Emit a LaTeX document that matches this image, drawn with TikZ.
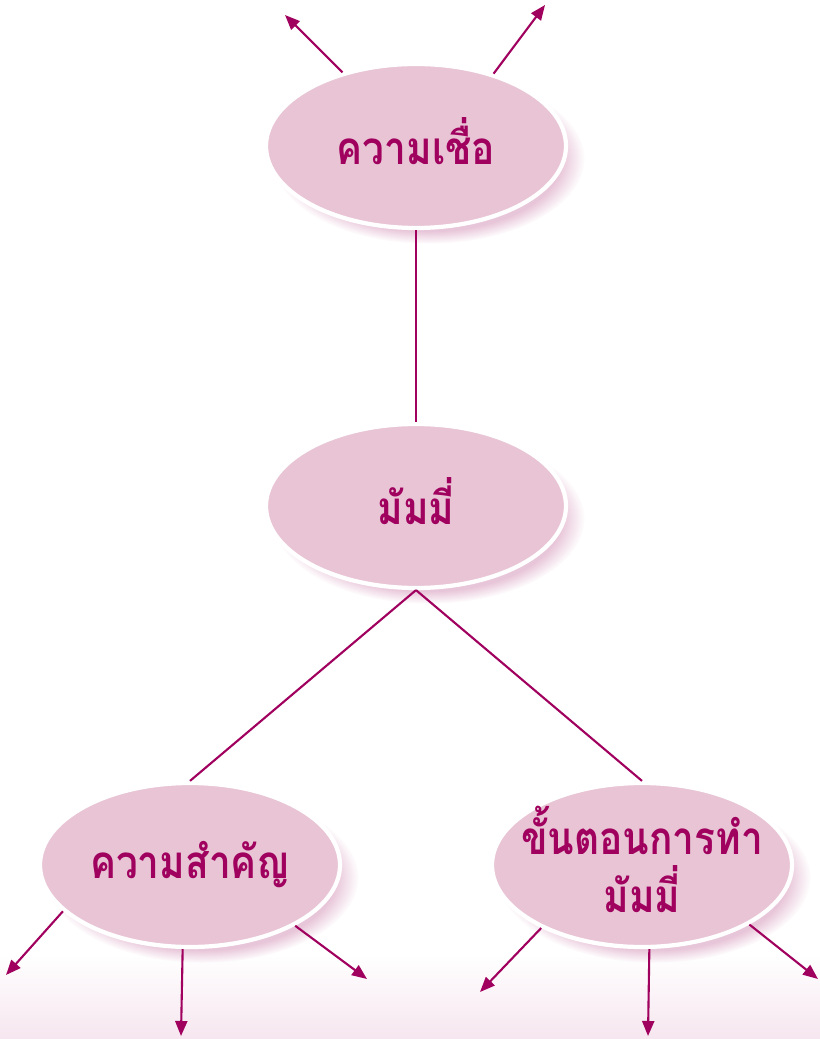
\documentclass[tikz,border=0pt]{standalone}
\usepackage{fontspec}
\newfontfamily\thaifont[Script=Thai,FakeStretch=0.85]{Loma}
\usetikzlibrary{shapes.geometric,arrows.meta,shadows,fadings}
\definecolor{mumline}{HTML}{A0005E}
\definecolor{mumfill}{HTML}{E8C4D5}
\definecolor{mumshade}{HTML}{D9A0C0}
\definecolor{mumfloor}{HTML}{F6E6EF}
\begin{document}
\begin{tikzpicture}[x=0.1mm,y=-0.1mm,
    topic/.style={ellipse,fill=mumfill,draw=white,line width=1.2pt,
        minimum width=30mm,minimum height=16.4mm,inner xsep=-4mm,inner ysep=-2mm,
        circular drop shadow={fill=mumshade,shadow xshift=1.2mm,shadow yshift=-1.2mm,
            shadow scale=1.04,opacity=0.6},
        font=\thaifont\bfseries\fontsize{13}{16.5}\selectfont,text=mumline,align=center,
        text depth=0.3em},
    branch/.style={mumline,line width=0.6pt},
    lead/.style={branch,-{Triangle[length=1.5mm,width=1.2mm]}}]
\useasboundingbox (0,0) rectangle (820,1039);
% pale floor at the bottom
\shade[top color=white,bottom color=mumfloor] (0,955) rectangle (820,1039);
\node[topic] (belief) at (416,146) {ความเชื่อ};
\node[topic] (mummy)  at (416,506) {มัมมี่};
\node[topic] (value)  at (190,865) {ความสำคัญ};
\node[topic] (steps)  at (642,865) {ขั้นตอนการทำ\\มัมมี่};
\draw[branch] (belief.south) -- (mummy.north);
\draw[branch] (mummy.south) -- (value.north);
\draw[branch] (mummy.south) -- (steps.north);
% free arrow ends
\coordinate (belief-nw) at (285,15);
\coordinate (belief-ne) at (545,5);
\coordinate (value-w) at (6,975);
\coordinate (value-s) at (181,1036);
\coordinate (value-e) at (367,979);
\coordinate (steps-w) at (480,992);
\coordinate (steps-s) at (648,1036);
\coordinate (steps-e) at (818,979);
\draw[lead] (belief.135) -- (belief-nw);
\draw[lead] (belief.43)  -- (belief-ne);
\draw[lead] (value.200) -- (value-w);
\draw[lead] (value.265) -- (value-s);
\draw[lead] (value.330) -- (value-e);
\draw[lead] (steps.212) -- (steps-w);
\draw[lead] (steps.275) -- (steps-s);
\draw[lead] (steps.331) -- (steps-e);
%\draw[red] (0,0) rectangle (820,1039);
\end{tikzpicture}
\end{document}
